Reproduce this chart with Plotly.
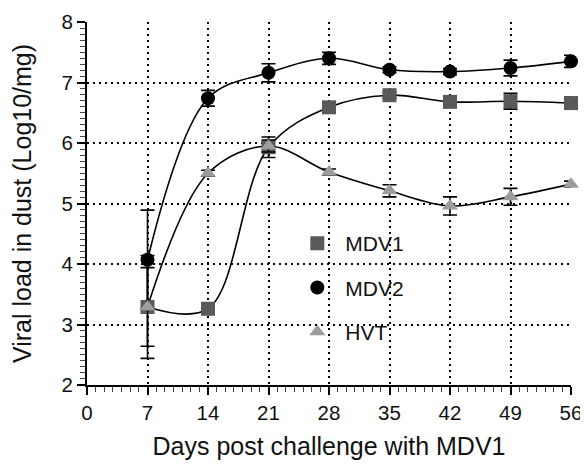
import plotly.graph_objects as go

days = [7, 14, 21, 28, 35, 42, 49, 56]
mdv1 = [3.29, 3.26, 5.93, 6.59, 6.79, 6.68, 6.69, 6.66]
mdv1_err = [0.65, 0.05, 0.17, 0.08, 0.05, 0.05, 0.13, 0.1]
mdv2 = [4.07, 6.74, 7.16, 7.40, 7.21, 7.18, 7.24, 7.35]
mdv2_err = [0.82, 0.13, 0.15, 0.1, 0.05, 0.05, 0.13, 0.1]
hvt = [3.29, 5.50, 5.95, 5.52, 5.21, 4.96, 5.11, 5.32]
hvt_err = [0.85, 0.05, 0.1, 0.05, 0.1, 0.15, 0.14, 0.05]

x_ticks = [0, 7, 14, 21, 28, 35, 42, 49, 56]
y_ticks = [2, 3, 4, 5, 6, 7, 8]

FONT = "Liberation Sans, Arial, sans-serif"

series = [
    ("MDV1", mdv1, mdv1_err, "square", "#595959"),
    ("MDV2", mdv2, mdv2_err, "circle", "#000000"),
    ("HVT", hvt, hvt_err, "triangle-up", "#9c9c9c"),
]

fig = go.Figure()
for name, vals, err, sym, col in series:
    fig.add_trace(go.Scatter(
        x=days, y=vals, name=name, legendgroup=name, showlegend=False,
        mode="lines", hoverinfo="skip",
        line=dict(color="black", width=1.6, shape="spline", smoothing=1.0),
        cliponaxis=False,
    ))
for name, vals, err, sym, col in series:
    fig.add_trace(go.Scatter(
        x=days, y=vals, name=name, legendgroup=name,
        mode="markers",
        marker=dict(symbol=sym, size=14, color=col, line=dict(width=0)),
        error_y=dict(type="data", array=err, visible=True, color="black",
                     thickness=1.6, width=7),
        cliponaxis=False,
    ))

fig.add_shape(type="rect", xref="paper", yref="paper",
              x0=0.413, x1=0.704, y0=0.08, y1=0.445,
              fillcolor="white", line=dict(width=0), layer="between")

axis_common = dict(
    showline=True, linecolor="black", linewidth=2,
    ticks="outside", ticklen=8, tickwidth=1.6, tickcolor="black",
    showgrid=True, gridcolor="black", griddash="2px,4px", gridwidth=1.8,
    zeroline=False, automargin=False, ticklabeloverflow="allow",
    tickfont=dict(family=FONT, size=20.5, color="#111"),
)

fig.update_xaxes(
    range=[0, 56], tickvals=x_ticks, ticktext=[str(v) for v in x_ticks],
    minor=dict(dtick=1, tick0=0, ticklen=5, tickwidth=1, tickcolor="#444",
               ticks="outside", showgrid=False),
    title=dict(text="Days post challenge with MDV1",
               font=dict(family=FONT, size=25, color="#111"), standoff=16),
    **axis_common,
)
fig.update_yaxes(
    range=[2, 8], tickvals=y_ticks, ticktext=[str(v) for v in y_ticks],
    minor=dict(dtick=0.1, tick0=2, ticklen=5, tickwidth=1, tickcolor="#444",
               ticks="outside", showgrid=False),
    title=dict(text="Viral load in dust (Log10/mg)",
               font=dict(family=FONT, size=25, color="#111"), standoff=24),
    **axis_common,
)

# the page body has an 8px default margin, so the figure is sized to fit
fig.update_layout(
    width=580, height=452,
    margin=dict(l=79, r=17, t=14, b=75),
    paper_bgcolor="white", plot_bgcolor="white",
    showlegend=True,
    legend=dict(x=0.418, y=0.446, xanchor="left", yanchor="top",
                bgcolor="rgba(0,0,0,0)", borderwidth=0,
                traceorder="grouped", tracegroupgap=14, itemwidth=46,
                font=dict(family=FONT, size=21, color="#111")),
)

fig.write_html("out.html")
